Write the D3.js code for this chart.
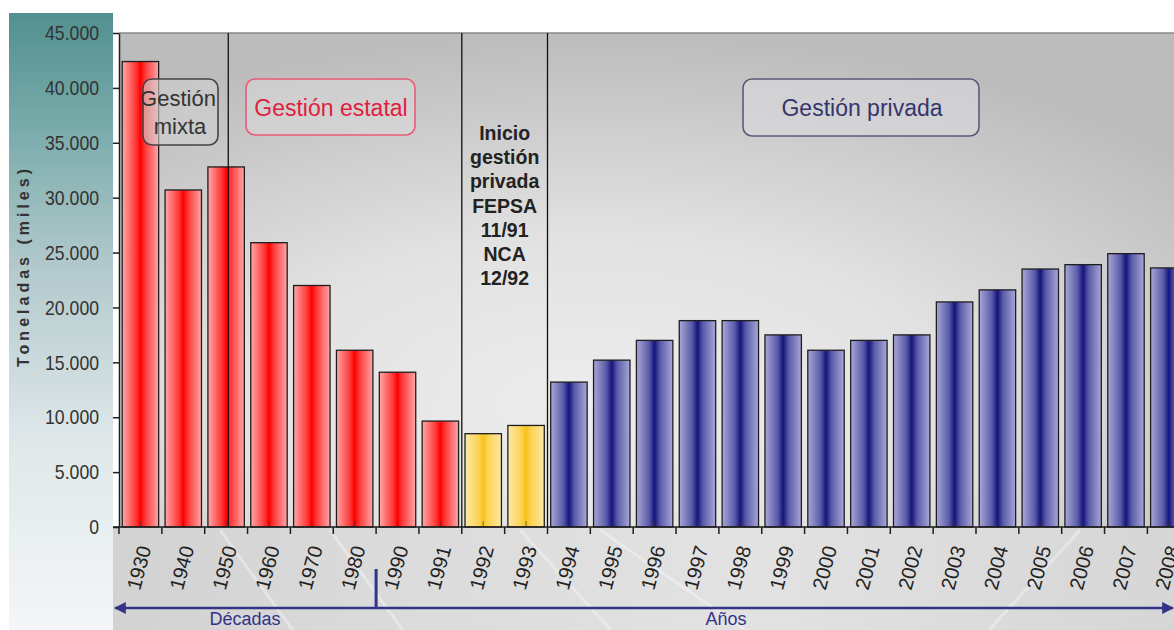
<!DOCTYPE html>
<html>
<head>
<meta charset="utf-8">
<script src="https://cdn.jsdelivr.net/npm/d3@7"></script>
<style>
  html, body { margin: 0; padding: 0; background: #ffffff; }
  svg { display: block; }
</style>
</head>
<body>
<svg id="chart" width="1174" height="630"></svg>
<script>
// Carga ferroviaria transportada (miles de toneladas)
const years = ["1930", "1940", "1950", "1960", "1970", "1980", "1990", "1991",
  "1992", "1993", "1994", "1995", "1996", "1997", "1998", "1999", "2000",
  "2001", "2002", "2003", "2004", "2005", "2006", "2007", "2008"];
const tonnage = [42400, 30700, 32800, 25900, 22000, 16100, 14100, 9650,
  8500, 9250, 13200, 15200, 17000, 18800, 18800, 17500, 16100,
  17000, 17500, 20500, 21600, 23500, 23900, 24900, 23600];
const management = ["estatal", "estatal", "estatal", "estatal", "estatal", "estatal", "estatal", "estatal",
  "transicion", "transicion", "privada", "privada", "privada", "privada", "privada", "privada", "privada",
  "privada", "privada", "privada", "privada", "privada", "privada", "privada", "privada"];
const yTicks = [0, 5000, 10000, 15000, 20000, 25000, 30000, 35000, 40000, 45000];
const noteLines = ["Inicio", "gestión", "privada", "FEPSA", "11/91", "NCA", "12/92"];

const svg = d3.select("#chart");
const W = 1174, H = 630;
const plotLeft = 119, plotTop = 33, plotBottom = 527;

const x = d3.scaleBand()
  .domain(years)
  .range([plotLeft, plotLeft + 25 * 42.85])
  .paddingInner(0.15)
  .paddingOuter(0.075);
const y = d3.scaleLinear().domain([0, 45000]).range([plotBottom, plotTop]);
const boundary = i => x.range()[0] + i * x.step();

const locale = d3.formatLocale({ decimal: ",", thousands: ".", grouping: [3], currency: ["$", ""] });
const fmt = locale.format(",");

const defs = svg.append("defs");

// side panel gradient
const side = defs.append("linearGradient").attr("id", "side").attr("x1", 0).attr("x2", 0).attr("y1", 0).attr("y2", 1);
[[0, "#52908f"], [0.18, "#78aaaa"], [0.42, "#b4cacd"], [0.7, "#e0e8ea"], [1, "#f4f6f7"]]
  .forEach(([o, c]) => side.append("stop").attr("offset", o).attr("stop-color", c));

// plot background
const plotBg = defs.append("radialGradient").attr("id", "plotBg")
  .attr("cx", 0.45).attr("cy", 0.75).attr("r", 0.75);
[[0, "#ededed"], [0.45, "#e2e2e2"], [1, "#bcbcbc"]]
  .forEach(([o, c]) => plotBg.append("stop").attr("offset", o).attr("stop-color", c));

// ground strip under the axis
const ground = defs.append("linearGradient").attr("id", "ground").attr("x1", 0).attr("x2", 1).attr("y1", 0).attr("y2", 0);
[[0, "#d2d2d2"], [0.3, "#dcdcdc"], [0.6, "#e2e2e2"], [1, "#d6d6d6"]]
  .forEach(([o, c]) => ground.append("stop").attr("offset", o).attr("stop-color", c));

// bar fills
const barFill = {
  estatal: [[0, "#ffa8a8"], [0.38, "#ff3636"], [0.5, "#ff0000"], [0.62, "#ff3636"], [1, "#ffa8a8"]],
  transicion: [[0, "#fee9a8"], [0.38, "#fbd250"], [0.5, "#f7c218"], [0.62, "#fbd250"], [1, "#fee9a8"]],
  privada: [[0, "#a8a8d8"], [0.35, "#5a5aa8"], [0.5, "#14147e"], [0.65, "#5a5aa8"], [1, "#a8a8d8"]]
};
Object.entries(barFill).forEach(([k, stops]) => {
  const g = defs.append("linearGradient").attr("id", "bar-" + k).attr("x1", 0).attr("x2", 1).attr("y1", 0).attr("y2", 0);
  stops.forEach(([o, c]) => g.append("stop").attr("offset", o).attr("stop-color", c));
});

// backgrounds
svg.append("rect").attr("x", 9).attr("y", 13).attr("width", 104).attr("height", H - 13).attr("fill", "url(#side)");
svg.append("rect").attr("x", plotLeft).attr("y", plotTop).attr("width", W - plotLeft).attr("height", plotBottom - plotTop).attr("fill", "url(#plotBg)");
svg.append("line").attr("x1", plotLeft).attr("x2", W).attr("y1", plotTop).attr("y2", plotTop).attr("stroke", "#8a8a8a").attr("stroke-width", 1.5);
svg.append("rect").attr("x", 113).attr("y", plotBottom).attr("width", W - 113).attr("height", H - plotBottom).attr("fill", "url(#ground)");

// faint track lines on the ground strip
const tracks = svg.append("g").attr("stroke", "#f6f6f6").attr("stroke-opacity", 0.45).attr("fill", "none");
[[300, 640, 220, 530], [410, 640, 330, 530], [760, 640, 600, 530], [620, 640, 520, 530], [980, 640, 1080, 530]]
  .forEach(([x1, y1, x2, y2]) => tracks.append("line").attr("x1", x1).attr("y1", y1).attr("x2", x2).attr("y2", y2).attr("stroke-width", 3));

// bars
svg.append("g").selectAll("rect").data(years).join("rect")
  .attr("x", d => x(d))
  .attr("y", (d, i) => y(tonnage[i]))
  .attr("width", x.bandwidth())
  .attr("height", (d, i) => y(0) - y(tonnage[i]))
  .attr("fill", (d, i) => `url(#bar-${management[i]})`)
  .attr("stroke", "#1e1e1e")
  .attr("stroke-width", 1.3);

// small centre ticks at the base of each bar
svg.append("g").selectAll("line").data(years).join("line")
  .attr("x1", d => x(d) + x.bandwidth() / 2).attr("x2", d => x(d) + x.bandwidth() / 2)
  .attr("y1", plotBottom - 6).attr("y2", plotBottom)
  .attr("stroke", "#333").attr("stroke-opacity", 0.6);

// period separators
const sepX = [boundary(2) + 0.55 * x.step(), boundary(years.indexOf("1992")), boundary(years.indexOf("1994"))];
svg.append("g").selectAll("line").data(sepX).join("line")
  .attr("x1", d => d).attr("x2", d => d).attr("y1", plotTop).attr("y2", plotBottom)
  .attr("stroke", "#111").attr("stroke-width", 1.3);

// y axis (condensed tick labels)
const yAxis = svg.append("g").attr("transform", `translate(${plotLeft},0)`)
  .call(d3.axisLeft(y).tickValues(yTicks).tickFormat(fmt).tickSize(6).tickSizeOuter(0).tickPadding(14));
yAxis.select(".domain").attr("stroke", "#1e1e1e").attr("stroke-width", 1.5);
yAxis.selectAll(".tick line").attr("stroke", "#1e1e1e").attr("stroke-width", 1.5);
yAxis.selectAll(".tick text")
  .attr("font-family", "'Liberation Sans', Arial, sans-serif")
  .attr("font-size", 21).attr("fill", "#333")
  .each(function () {
    const len = this.getComputedTextLength();
    d3.select(this).attr("textLength", len * 0.84).attr("lengthAdjust", "spacingAndGlyphs");
  });

// x axis: labels from the band scale
const xAxis = svg.append("g").attr("transform", `translate(0,${plotBottom})`)
  .call(d3.axisBottom(x).tickSize(0).tickSizeOuter(0));
xAxis.select(".domain").remove();
xAxis.selectAll(".tick text")
  .attr("font-family", "'Liberation Sans', Arial, sans-serif")
  .attr("font-size", 20).attr("fill", "#222")
  .attr("text-anchor", "end")
  .attr("dy", null)
  .attr("y", null)
  .attr("transform", "translate(11,21) rotate(-75)");
svg.append("line").attr("x1", 113).attr("x2", W).attr("y1", plotBottom).attr("y2", plotBottom)
  .attr("stroke", "#1e1e1e").attr("stroke-width", 1.6);
svg.append("g").selectAll("line").data(d3.range(years.length + 1)).join("line")
  .attr("x1", boundary).attr("x2", boundary)
  .attr("y1", plotBottom).attr("y2", plotBottom + 7)
  .attr("stroke", "#1e1e1e").attr("stroke-width", 1.5);

// y axis title
svg.append("text")
  .attr("transform", "translate(29,266) rotate(-90)")
  .attr("text-anchor", "middle")
  .attr("font-family", "'Liberation Sans', Arial, sans-serif")
  .attr("font-weight", "bold").attr("font-size", 16)
  .attr("letter-spacing", 4)
  .attr("fill", "#333")
  .text("Toneladas (miles)");

// annotation boxes
const font = "'Liberation Sans', Arial, sans-serif";
function box(x0, y0, w, h, stroke, fill, fillOp) {
  svg.append("rect").attr("x", x0).attr("y", y0).attr("width", w).attr("height", h)
    .attr("rx", 9).attr("ry", 9)
    .attr("fill", fill).attr("fill-opacity", fillOp)
    .attr("stroke", stroke).attr("stroke-width", 1.6);
}
box(143, 79, 75, 66, "#444", "#d0d0d0", 0.6);
svg.append("text").attr("x", 178).attr("y", 106).attr("text-anchor", "middle")
  .attr("font-family", font).attr("font-size", 22).attr("fill", "#333").text("Gestión");
svg.append("text").attr("x", 180).attr("y", 134).attr("text-anchor", "middle")
  .attr("font-family", font).attr("font-size", 22).attr("fill", "#333").text("mixta");

box(246, 79, 169, 56, "#e85a78", "#dcdcdc", 0.5);
svg.append("text").attr("x", 331).attr("y", 116).attr("text-anchor", "middle")
  .attr("font-family", font).attr("font-size", 23).attr("fill", "#e0203e").text("Gestión estatal");

box(743, 79, 236, 57, "#5a5a78", "#dadade", 0.6);
svg.append("text").attr("x", 862).attr("y", 116).attr("text-anchor", "middle")
  .attr("font-family", font).attr("font-size", 23).attr("fill", "#35356e").text("Gestión privada");

// privatisation note
const noteX = (sepX[1] + sepX[2]) / 2;
svg.append("text").attr("text-anchor", "middle")
  .attr("font-family", font).attr("font-weight", "bold").attr("font-size", 19.5).attr("fill", "#222")
  .selectAll("tspan").data(noteLines).join("tspan")
  .attr("x", noteX).attr("y", (d, i) => 140 + i * 24.2)
  .text(d => d);

// period arrow below the axis
const navy = "#33338a";
const arrowY = 608;
const ah = defs.append("marker").attr("id", "arrow").attr("viewBox", "0 0 10 10")
  .attr("refX", 9).attr("refY", 5).attr("markerWidth", 5).attr("markerHeight", 5)
  .attr("orient", "auto-start-reverse");
ah.append("path").attr("d", "M0,0 L10,5 L0,10 Z").attr("fill", navy);
svg.append("line").attr("x1", 115).attr("x2", W - 1).attr("y1", arrowY).attr("y2", arrowY)
  .attr("stroke", navy).attr("stroke-width", 2.4)
  .attr("marker-start", "url(#arrow)").attr("marker-end", "url(#arrow)");
const divX = boundary(years.indexOf("1990"));
svg.append("line").attr("x1", divX).attr("x2", divX).attr("y1", 569).attr("y2", arrowY)
  .attr("stroke", navy).attr("stroke-width", 3);
svg.append("text").attr("x", 245).attr("y", 625).attr("text-anchor", "middle")
  .attr("font-family", font).attr("font-size", 18).attr("fill", navy).text("Décadas");
svg.append("text").attr("x", 726).attr("y", 625).attr("text-anchor", "middle")
  .attr("font-family", font).attr("font-size", 18).attr("fill", navy).text("Años");
</script>
</body>
</html>
